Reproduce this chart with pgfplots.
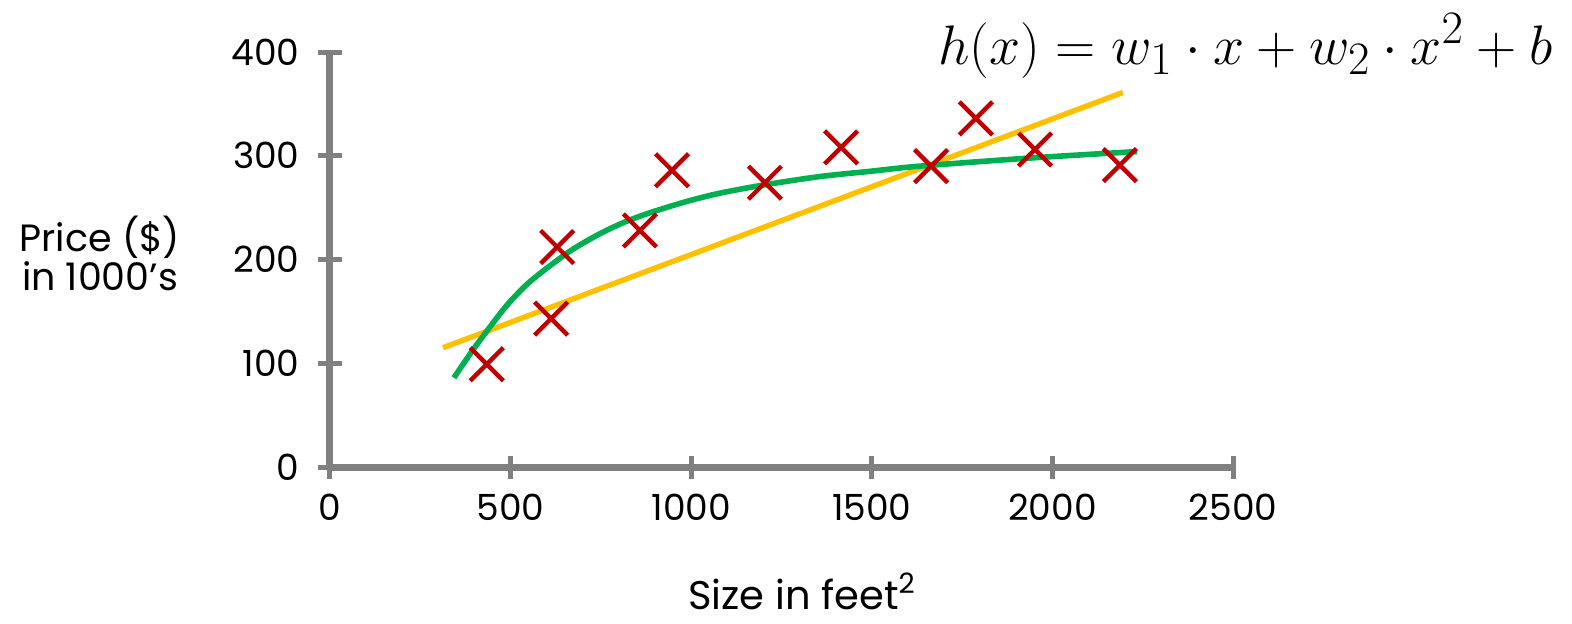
\documentclass[border=0pt]{standalone}
\usepackage{pgfplots}
\pgfplotsset{compat=1.18}
\usepackage{fontspec}
\setmainfont{Poppins}
\definecolor{axgray}{HTML}{808080}
\definecolor{xred}{HTML}{C00000}
\definecolor{fitgreen}{HTML}{00B050}
\definecolor{fityellow}{HTML}{FFC000}
\begin{document}
\begin{tikzpicture}
\begin{axis}[
  scale only axis, width=451.5pt, height=207.5pt,
  xmin=0, xmax=2500, ymin=0, ymax=400,
  axis lines*=left,
  axis line style={line width=3.5pt, draw=axgray},
  xtick={0,500,...,2500}, ytick={0,100,...,400},
  tick align=center, major tick length=11.5pt,
  tick style={line width=2.5pt, draw=axgray},
  ticklabel style={font=\fontsize{18}{20}\selectfont},
  xticklabel style={yshift=-4pt},
  yticklabel style={xshift=-6pt},
  /pgf/number format/assume math mode=true,
  /pgf/number format/1000 sep={},
  clip=false,
]
\coordinate (O) at (axis cs:0,0);
% linear fit (yellow)
\addplot[fityellow, line width=2.7pt] coordinates {(313,115) (2195,361)};
% polynomial fit (green)
\addplot[fitgreen, line width=2.8pt, smooth, tension=0.5] coordinates {
 (343,86) (396,113) (443,135) (490,156) (545,176) (609,194) (673,210) (748,225)
 (822,237) (894,246) (988,256) (1080,264) (1204,272) (1357,280) (1495,285)
 (1633,290) (1946,298) (2234,304)};
% data
\addplot[only marks, mark=x, mark size=11.7pt, xred, mark options={line width=2.2pt}] coordinates {
 (434,99) (612,143) (629,212) (858,228) (947,286) (1204,274) (1415,308) (1664,290) (1788,336) (1952,306) (2187,291)};
\node[anchor=base east, inner sep=0pt, scale=1.12, font=\fontsize{24.88}{30}\selectfont] at (rel axis cs:1.354,0.971) {$h(x) = w_1\cdot x + w_2\cdot x^2 + b$};
\end{axis}
\node[align=center, font=\fontsize{19}{19.5}\selectfont] at ([shift={(-115pt,107pt)}]O) {Price (\$)\\in 1000’s};
\node[anchor=base, inner sep=0pt, font=\fontsize{20}{22}\selectfont] at ([shift={(236pt,-71pt)}]O) {Size in feet\textsuperscript{2}};
\pgfresetboundingbox
\path ([shift={(-165pt,-78pt)}]O) rectangle ([shift={(621pt,233.5pt)}]O);
\end{tikzpicture}
\end{document}
